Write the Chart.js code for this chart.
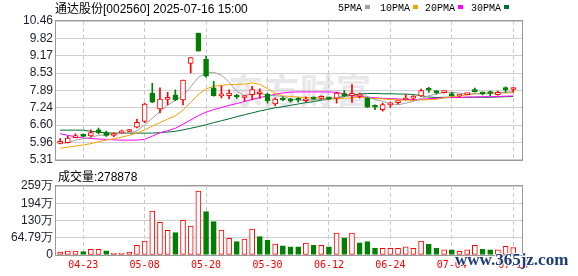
<!DOCTYPE html>
<html><head><meta charset="utf-8">
<script src="https://cdn.jsdelivr.net/npm/chart.js@4"></script>
<style>
html,body{margin:0;padding:0;background:#fff}
body{width:578px;height:276px;overflow:hidden;position:relative;font-family:"Liberation Sans","Noto Sans CJK SC",sans-serif}
.box{position:absolute;left:0;width:578px}
#wrapP{top:0;height:170px}
#wrapV{top:170px;height:106px}
.t{position:absolute;white-space:nowrap}
#title{left:55px;top:2px;font-size:12px;line-height:14px;color:#000}
#volLbl{left:58px;top:170px;font-size:12px;line-height:14px;color:#000}
.lg{position:absolute;top:3px;font-family:"Liberation Mono",monospace;font-size:10px;line-height:12px;color:#000;white-space:nowrap}
.sq{display:inline-block;width:5px;height:4px;margin-left:3px;vertical-align:2px}
#wm{left:228px;top:70px;font-size:35px;line-height:38px;font-weight:bold;color:#e8e8ec;font-family:"Noto Sans CJK SC",sans-serif;letter-spacing:1px}
#site{left:455px;top:251px;font-family:"Liberation Serif",serif;font-weight:bold;font-size:17px;line-height:17px;color:#1e3c78;text-shadow:1px 0 0 #fff,-1px 0 0 #fff,0 1px 0 #fff,0 -1px 0 #fff}
</style></head>
<body>
<div class="t" id="wm">东方财富</div>
<div class="box" id="wrapP"><canvas id="cP"></canvas></div>
<div class="box" id="wrapV"><canvas id="cV"></canvas></div>
<div class="t" id="title">通达股份[002560] 2025-07-16 15:00</div>
<div class="lg" style="left:338px">5PMA<span class="sq" style="background:#a0a0a0"></span></div>
<div class="lg" style="left:380px">10PMA<span class="sq" style="background:#f5a300"></span></div>
<div class="lg" style="left:425px">20PMA<span class="sq" style="background:#ff00ff"></span></div>
<div class="lg" style="left:471px">30PMA<span class="sq" style="background:#006f30"></span></div>
<div class="t" id="volLbl">成交量:278878</div>
<div class="t" id="site">www.365jz.com</div>
<script>
// ---------- data ----------
const dates = ['04-18','04-21','04-22','04-23','04-24','04-25','04-28','04-29','04-30','05-06',
'05-07','05-08','05-09','05-12','05-13','05-14','05-15','05-16','05-19','05-20',
'05-21','05-22','05-23','05-26','05-27','05-28','05-29','05-30','06-03','06-04',
'06-05','06-06','06-09','06-10','06-11','06-12','06-13','06-16','06-17','06-18',
'06-19','06-20','06-23','06-24','06-25','06-26','06-27','06-30','07-01','07-02',
'07-03','07-04','07-07','07-08','07-09','07-10','07-11','07-14','07-15','07-16'];
const opens = [5.92,5.95,6.13,6.25,6.20,6.42,6.32,6.21,6.31,6.36,
6.52,6.73,7.79,7.20,7.55,7.72,7.53,8.89,10.01,9.04,
7.98,7.68,7.69,7.66,7.62,7.73,7.76,7.74,7.38,7.55,
7.56,7.55,7.50,7.60,7.59,7.61,7.60,7.73,7.69,7.67,
7.60,7.29,7.17,7.35,7.43,7.53,7.60,7.68,7.92,7.82,
7.80,7.76,7.67,7.73,7.86,7.79,7.79,7.73,7.99,7.92];
const highs = [6.10,6.19,6.27,6.26,6.42,6.49,6.38,6.31,6.41,6.43,
6.81,7.41,8.15,7.98,7.81,7.91,8.27,9.10,10.01,9.16,
8.22,8.05,7.91,7.74,7.68,8.04,7.94,7.79,7.61,7.65,
7.59,7.62,7.65,7.65,7.68,7.63,7.82,7.88,8.10,7.79,
7.62,7.35,7.41,7.44,7.50,7.73,7.69,7.93,8.00,7.86,
7.86,7.81,7.74,7.78,7.97,7.82,7.86,7.86,8.02,7.98];
const lows = [5.90,5.94,6.12,6.17,6.17,6.27,6.18,6.17,6.30,6.35,
6.49,6.69,7.43,7.05,7.35,7.50,7.35,8.53,9.34,8.38,
7.67,7.61,7.57,7.59,7.49,7.53,7.59,7.41,7.31,7.50,
7.45,7.45,7.47,7.54,7.56,7.55,7.41,7.65,7.44,7.60,
7.25,7.17,7.11,7.25,7.38,7.53,7.53,7.65,7.81,7.75,
7.79,7.67,7.62,7.73,7.82,7.72,7.69,7.71,7.82,7.82];
const closes = [5.95,6.12,6.14,6.18,6.32,6.32,6.21,6.25,6.35,6.39,
6.70,7.38,7.45,7.56,7.62,7.53,8.27,9.10,9.34,8.41,
7.69,7.71,7.79,7.64,7.68,7.92,7.79,7.50,7.56,7.53,
7.49,7.53,7.55,7.56,7.65,7.57,7.79,7.69,7.78,7.73,
7.26,7.26,7.36,7.36,7.50,7.55,7.63,7.88,7.90,7.80,
7.82,7.69,7.69,7.78,7.84,7.76,7.77,7.81,7.91,7.94];
const ma5 = [5.92,5.94,6.04,6.09,6.14,6.22,6.23,6.26,6.29,6.30,
6.38,6.61,6.85,7.10,7.34,7.51,7.69,8.02,8.37,8.53,
8.56,8.45,8.19,7.85,7.70,7.75,7.76,7.71,7.69,7.66,
7.57,7.52,7.53,7.53,7.56,7.57,7.62,7.65,7.70,7.71,
7.65,7.54,7.48,7.39,7.35,7.41,7.48,7.58,7.69,7.75,
7.81,7.82,7.78,7.76,7.76,7.75,7.77,7.79,7.82,7.84];
const ma10 = [5.74,5.78,5.82,5.86,5.91,5.98,6.04,6.09,6.15,6.22,
6.30,6.42,6.56,6.69,6.82,6.94,7.15,7.44,7.73,7.94,
8.04,8.07,8.10,8.11,8.12,8.16,8.11,7.95,7.77,7.68,
7.66,7.64,7.62,7.61,7.61,7.57,7.57,7.59,7.61,7.63,
7.61,7.58,7.57,7.55,7.53,7.53,7.51,7.53,7.54,7.55,
7.61,7.65,7.68,7.72,7.76,7.78,7.79,7.79,7.79,7.80];
const ma20 = [6.28,6.22,6.16,6.12,6.10,6.08,6.07,6.05,6.04,6.04,
6.04,6.07,6.19,6.31,6.39,6.48,6.63,6.79,6.95,7.08,
7.17,7.25,7.33,7.40,7.47,7.55,7.62,7.68,7.74,7.79,
7.82,7.83,7.83,7.83,7.83,7.83,7.81,7.76,7.69,7.66,
7.64,7.61,7.59,7.58,7.57,7.55,7.54,7.56,7.58,7.59,
7.61,7.62,7.62,7.64,7.64,7.65,7.65,7.66,7.67,7.68];
const ma30 = [6.41,6.41,6.41,6.41,6.37,6.34,6.31,6.30,6.30,6.30,
6.30,6.30,6.30,6.32,6.34,6.37,6.42,6.48,6.54,6.61,
6.69,6.76,6.83,6.91,6.98,7.05,7.12,7.18,7.24,7.28,
7.33,7.38,7.43,7.47,7.52,7.56,7.61,7.66,7.71,7.75,
7.77,7.77,7.76,7.76,7.75,7.75,7.73,7.69,7.64,7.62,
7.63,7.63,7.62,7.63,7.63,7.63,7.63,7.64,7.65,7.66];
const volumes = [11,15,15,12.5,21,21,16,7.5,7.5,11,
36,52.5,165,122.6,92.6,83.8,130,109,240,162.7,
125,94,62.6,50,60,97.6,68.8,56,41,34,
31,31,45,37.5,36,31,82.6,64,82.6,46,
50,26,25,25,25,31,25,52.5,41,26,
19,19,14,19,36,21,19,19,32.5,27.9];
const volUp = [1,1,1,0,1,1,0,1,1,1, 1,1,1,1,1,0,1,1,1,0,
0,1,1,0,1,1,0,0,1,0, 0,0,1,0,1,0,1,0,1,0,
0,0,1,1,1,1,1,1,0,0, 1,0,1,1,1,0,0,1,1,1];
const priceTickLabels = ['5.31','5.96','6.60','7.24','7.89','8.53','9.17','9.82','10.46'];
const volTickLabels = ['0','64.79万','130万','194万','259万'];
const dateTickIdx = [3,11,19,27,35,43,51,59];

// ---------- drawing ----------
const RED = '#ff0000', GREEN = '#008000';
const idx = dates.map((d, i) => i);
const up = idx.map(i => closes[i] >= opens[i]);

const frame = {
  id: 'frame',
  afterDraw(c) {
    const a = c.chartArea, x = c.ctx;
    x.save(); x.strokeStyle = '#999'; x.lineWidth = 1;
    x.strokeRect(Math.round(a.left) - 0.5, Math.round(a.top) - 0.5,
      Math.round(a.right - a.left) + 1, Math.round(a.bottom - a.top) + 1);
    x.restore();
  }
};

function xScale(show) {
  return {
    type: 'linear', min: -0.54, max: 60.14, offset: false,
    afterBuildTicks(s) { s.ticks = dateTickIdx.map(v => ({ value: v })); },
    afterFit(s) { s.height = show ? 21 : 0; },
    grid: { color: '#c8c8c8', lineWidth: 1, drawTicks: false, offset: false },
    border: { display: false, dash: [4, 3] },
    ticks: { display: show, autoSkip: false, maxRotation: 0, padding: 4, color: RED,
      font: { family: 'DejaVu Sans Mono', size: 10 },
      callback: v => dates[v] }
  };
}
function yScale(min, max, labels) {
  return {
    type: 'linear', min: min, max: max,
    afterBuildTicks(s) { s.ticks = labels.map(l => ({ value: parseFloat(l) })); },
    afterFit(s) { s.width = 56; },
    grid: { color: '#d0d0d0', lineWidth: 1, drawTicks: false },
    border: { display: false },
    ticks: { padding: 3, autoSkip: false, color: '#1c1c2c', font: { family: 'Liberation Sans', size: 12 },
      callback: (v, i) => labels[i] }
  };
}
const common = {
  responsive: true, maintainAspectRatio: false, animation: false, devicePixelRatio: 1,
  events: [],
  plugins: { legend: { display: false }, tooltip: { enabled: false } }
};
function maLine(arr, color) {
  return { type: 'line', data: idx.map(i => ({ x: i, y: arr[i] })), borderColor: color,
    borderWidth: 1, pointRadius: 0, fill: false, tension: 0 };
}

new Chart(document.getElementById('cP'), {
  type: 'bar',
  data: { datasets: [
    { type: 'bar', data: idx.map(i => ({ x: i, y: [opens[i], closes[i]] })),
      backgroundColor: idx.map(i => up[i] ? '#ffffff' : GREEN),
      borderColor: idx.map(i => up[i] ? RED : GREEN),
      borderWidth: 1, borderSkipped: false, barThickness: 5, minBarLength: 2, grouped: false },
    { type: 'bar', data: idx.map(i => ({ x: i, y: [lows[i], highs[i]] })),
      backgroundColor: idx.map(i => up[i] ? RED : GREEN),
      borderWidth: 0, barThickness: 1, grouped: false },
    maLine(ma5, '#a0a0a0'),
    maLine(ma10, '#f5a300'),
    maLine(ma20, '#ff00ff'),
    maLine(ma30, '#006f30')
  ] },
  options: Object.assign({}, common, {
    layout: { padding: { left: 0, right: 56, top: 21, bottom: 5 } },
    scales: { x: xScale(false), y: yScale(5.31, 10.46, priceTickLabels) }
  }),
  plugins: [frame]
});

new Chart(document.getElementById('cV'), {
  type: 'bar',
  data: { datasets: [
    { type: 'bar', data: idx.map(i => ({ x: i, y: volumes[i] })),
      backgroundColor: idx.map(i => volUp[i] ? '#ffffff' : GREEN),
      borderColor: idx.map(i => volUp[i] ? RED : GREEN),
      borderWidth: 1, borderSkipped: false, barThickness: 5, grouped: false }
  ] },
  options: Object.assign({}, common, {
    layout: { padding: { left: 0, right: 56, top: 16, bottom: 0 } },
    scales: { x: xScale(true), y: yScale(0, 259, volTickLabels) }
  }),
  plugins: [frame]
});
</script>
</body></html>
